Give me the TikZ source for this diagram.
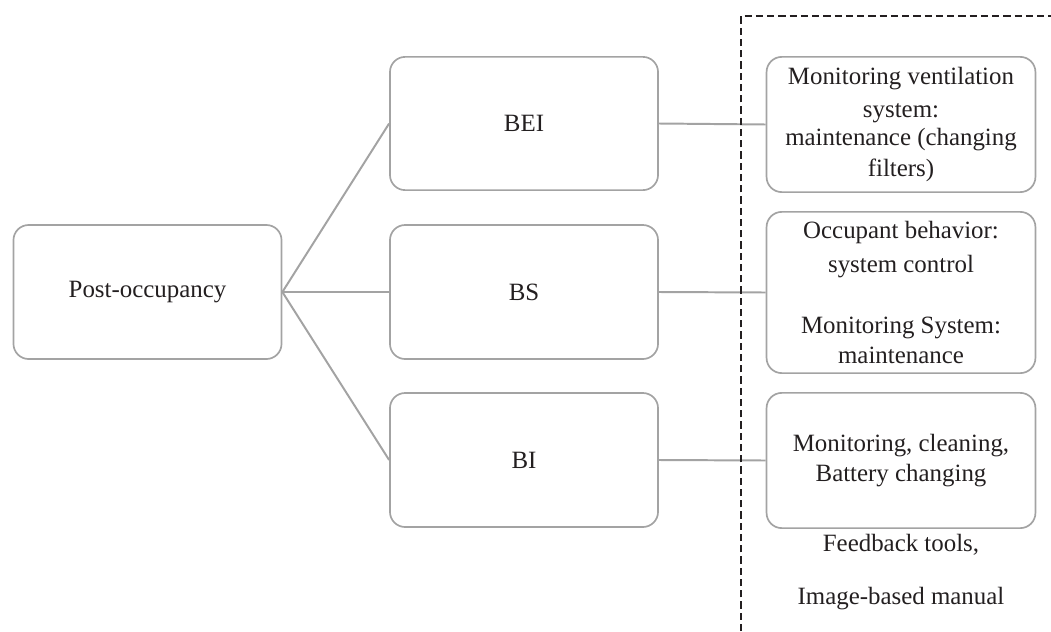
\documentclass[tikz,border=0pt]{standalone}
\usepackage{fontspec}
\setmainfont{Liberation Serif}
\usepackage{tikz}
\usetikzlibrary{positioning}

\definecolor{boxgray}{HTML}{A3A3A3}
\definecolor{txtdark}{HTML}{231F20}

\begin{document}
\begin{tikzpicture}[x=0.025cm,y=-0.025cm]%
            \useasboundingbox (0,0) rectangle (1051,631);
            \begin{scope}[shape=rectangle,rounded corners=0.38cm,fill=white,font=\fontsize{17.7}{21.5}\selectfont,text=txtdark,align=center]%
            \tikzstyle{every node}=[draw=boxgray,line width=1.2pt,minimum width=6.7cm] %%
            \node[minimum height=3.35cm] (po) at (147.5,292) {Post-occupancy}; %%
            \node[minimum height=3.33cm] (bei) at (524,123.5) {BEI}; %%
            \node[minimum height=3.35cm] (bs) at (524,292) {BS}; %%
            \node[minimum height=3.35cm] (bi) at (524,460) {BI}; %%
            \node[minimum width=6.72cm,minimum height=3.38cm] (m1) at (901,124.5) {Monitoring ventilation\\[2pt]system:\\[-1.5pt]maintenance (changing\\filters)}; %%
            \node[minimum width=6.72cm,minimum height=4.03cm] (m2) at (901,292.5) {Occupant behavior:\\[3pt]system control\\[22pt]Monitoring System:\\maintenance}; %%
            \node[minimum width=6.72cm,minimum height=3.38cm] (m3) at (901,460.5) {Monitoring, cleaning,\\Battery changing}; %%
            \end{scope}
            \begin{scope}[font=\fontsize{17.7}{21.5}\selectfont,text=txtdark,align=center]%
            \node (fb) at (901,572) {Feedback tools,\\[16pt]Image-based manual}; %%
            \end{scope}
            \draw[boxgray,line width=1.4pt] (po.east)--(bei.west); %%
            \draw[boxgray,line width=1.4pt] (po.east)--(bs.west); %%
            \draw[boxgray,line width=1.4pt] (po.east)--(bi.west); %%
            \draw[boxgray,line width=1.4pt] (bei.east)--(m1.west); %%
            \draw[boxgray,line width=1.4pt] (bs.east)--(m2.west); %%
            \draw[boxgray,line width=1.4pt] (bi.east)--(m3.west); %%
            \draw[txtdark,line width=0.75pt,dash pattern=on 5pt off 3pt] (741,631)--(741,16)--(1051,16); %%
        \end{tikzpicture}
\end{document}
